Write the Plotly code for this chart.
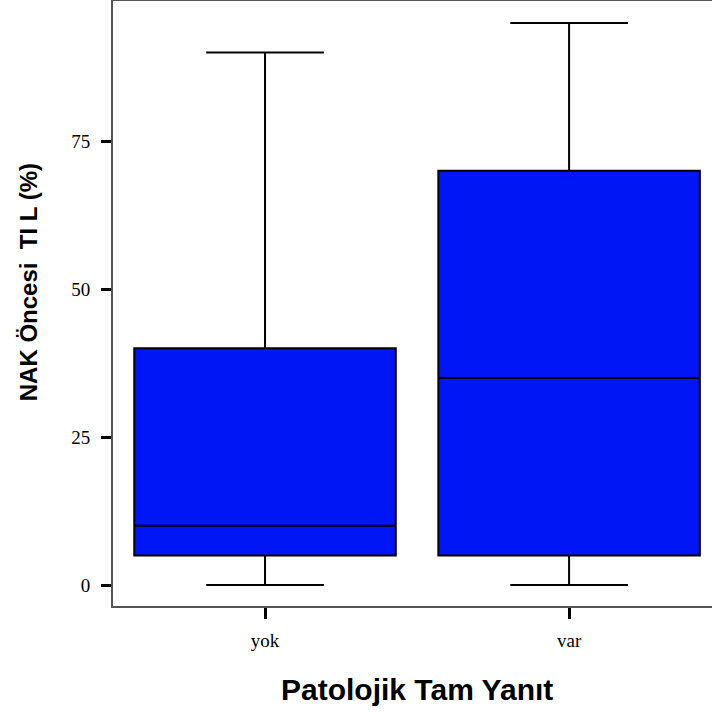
import plotly.graph_objects as go

categories = ["yok", "var"]
q1_values = [5, 5]
median_values = [10, 35]
q3_values = [40, 70]
lower_whisker = [0, 0]
upper_whisker = [90, 95]
y_tick_values = [0, 25, 50, 75]
y_tick_labels = ["0", "25", "50", "75"]

fig = go.Figure()
fig.add_trace(go.Box(
    x=categories,
    q1=q1_values,
    median=median_values,
    q3=q3_values,
    lowerfence=lower_whisker,
    upperfence=upper_whisker,
    fillcolor="#0016F5",
    line=dict(color="black", width=2),
    whiskerwidth=0.45,
    width=0.86,
    boxpoints=False,
    showlegend=False,
))

fig.update_layout(
    width=712, height=713,
    margin=dict(l=113, r=0, t=1, b=107),
    paper_bgcolor="white", plot_bgcolor="white",
    xaxis=dict(
        type="category", range=[-0.5, 1.47],
        showline=True, linecolor="#555555", linewidth=2, mirror=True,
        ticks="outside", ticklen=11, tickwidth=3, tickcolor="black",
        tickfont=dict(family="Liberation Serif", size=19, color="black"),
        ticklabelstandoff=5,
        showgrid=False, zeroline=False,
    ),
    yaxis=dict(
        range=[-3.55, 98.7],
        tickvals=y_tick_values, ticktext=y_tick_labels,
        showline=True, linecolor="#555555", linewidth=2,
        ticks="outside", ticklen=10, tickwidth=3, tickcolor="black",
        tickfont=dict(family="Liberation Serif", size=19, color="black"),
        ticklabelstandoff=7,
        showgrid=False, zeroline=False,
    ),
    annotations=[
        dict(text="Patolojik Tam Yanıt", xref="x", yref="paper", x=0.5, y=-0.138,
             xanchor="center", yanchor="middle", showarrow=False,
             font=dict(family="Liberation Sans", size=30, color="black", weight="bold")),
        dict(text="NAK Öncesi  TI L (%)", xref="paper", yref="paper", x=-0.142, y=0.535,
             xanchor="center", yanchor="middle", showarrow=False, textangle=-90,
             font=dict(family="Liberation Sans", size=24, color="black", weight="bold")),
    ],
)

fig.write_html("out.html", config={"displayModeBar": False},
               post_script="document.body.style.margin='0';document.body.style.overflow='hidden';")
